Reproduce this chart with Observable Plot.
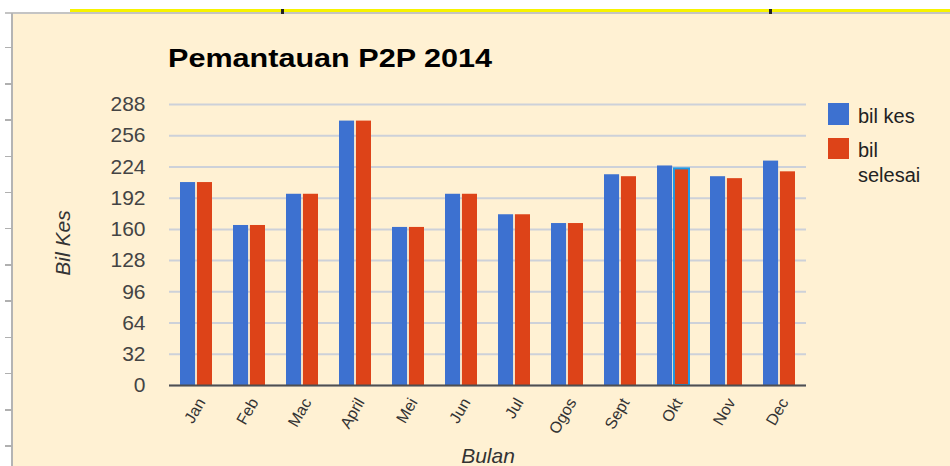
<!DOCTYPE html>
<html>
<head>
<meta charset="utf-8">
<script src="https://cdn.jsdelivr.net/npm/d3@7"></script>
<script src="https://cdn.jsdelivr.net/npm/@observablehq/plot@0.6"></script>
<style>
  html, body { margin: 0; padding: 0; background: #ffffff; }
  #wrap { position: relative; width: 950px; height: 466px; overflow: hidden; background: #ffffff; font-family: "Liberation Sans", Arial, sans-serif; }
  #cream { position: absolute; left: 13px; top: 14px; right: 0; bottom: 0; background: #fff1d3; }
  #vline { position: absolute; left: 11px; top: 13px; width: 2px; bottom: 0; background: #b4b4b4; }
  #hline { position: absolute; left: 5px; top: 12px; right: 0; height: 2px; background: #c4c4c4; }
  #yellow { position: absolute; left: 70px; top: 9px; right: 0; height: 3px; background: #f7f300; }
  .mark { position: absolute; top: 9px; width: 3px; height: 5px; background: #222; }
  #ruler { position: absolute; left: 5px; top: 47px; width: 7px; height: 420px;
    background: repeating-linear-gradient(to bottom, #b0b0b0 0 1.5px, transparent 1.5px 36.2px); }
  #chart { position: absolute; left: 0; top: 0; }
</style>
</head>
<body>
<div id="wrap">
  <div id="cream"></div>
  <div id="hline"></div>
  <div id="yellow"></div>
  <div class="mark" style="left:281px"></div>
  <div class="mark" style="left:769px"></div>
  <div id="vline"></div>
  <div id="ruler"></div>
  <div id="chart"></div>
</div>
<script>
// ---- data ----
const title = "Pemantauan P2P 2014";
const months = ["Jan","Feb","Mac","April","Mei","Jun","Jul","Ogos","Sept","Okt","Nov","Dec"];
const bilKes = [208,164,196,271,162,196,175,166,216,225,214,230];
const bilSelesai = [208,164,196,271,162,196,175,166,214,222,212,219];
const series = ["bil kes", "bil selesai"];
const colors = ["#3d71d0", "#dd4318"];
const yTicks = [0,32,64,96,128,160,192,224,256,288];
const yTitle = "Bil Kes";
const xTitle = "Bulan";

const data = months.flatMap((m, i) => [
  {bulan: m, seri: series[0], nilai: bilKes[i]},
  {bulan: m, seri: series[1], nilai: bilSelesai[i]}
]);

const chart = Plot.plot({
  width: 950,
  height: 466,
  marginLeft: 169,
  marginRight: 144,
  marginTop: 104,
  marginBottom: 81,
  style: {background: "transparent", fontFamily: "'Liberation Sans', Arial, sans-serif", fontSize: "21px", color: "#444"},
  x: {domain: months, paddingInner: 0.4, paddingOuter: 0.2, label: null},
  y: {domain: [0, 288], label: null},
  color: {domain: series, range: colors},
  marks: [
    Plot.gridY(yTicks, {stroke: "#cdd1d9", strokeOpacity: 1, strokeWidth: 2}),
    Plot.barY(data.filter(d => d.seri === series[0]), {x: "bulan", y: "nilai", fill: "seri", insetRight: 16.9}),
    Plot.barY(data.filter(d => d.seri === series[1]), {
      x: "bulan", y: "nilai", fill: "seri", insetLeft: 16.9,
      stroke: d => d.bulan === "Okt" ? "#1d9ae6" : "none", strokeWidth: 2
    }),
    Plot.ruleY([0], {stroke: "#4f4f4f", strokeWidth: 2}),
    Plot.axisX({tickSize: 0, tickPadding: 14, dx: 5, tickRotate: -60, fontSize: 16, fill: "#333", label: null}),
    Plot.axisY(yTicks, {tickSize: 0, tickPadding: 24, fontSize: 21, fill: "#444", label: null})
  ]
});

document.getElementById("chart").appendChild(chart);

const svg = d3.select(chart);
svg.append("text")
  .attr("x", 168).attr("y", 67)
  .attr("text-anchor", "start")
  .attr("font-family", "'Liberation Sans', Arial, sans-serif")
  .attr("font-weight", "bold").attr("font-size", 26)
  .attr("textLength", 324).attr("lengthAdjust", "spacingAndGlyphs")
  .attr("fill", "#000")
  .text(title);

svg.append("text")
  .attr("transform", "translate(70,243) rotate(-90)")
  .attr("text-anchor", "middle")
  .attr("font-style", "italic").attr("font-size", 21)
  .attr("font-family", "'Liberation Sans', Arial, sans-serif")
  .attr("fill", "#333")
  .text(yTitle);

svg.append("text")
  .attr("x", 488).attr("y", 463)
  .attr("text-anchor", "middle")
  .attr("font-style", "italic").attr("font-size", 21)
  .attr("font-family", "'Liberation Sans', Arial, sans-serif")
  .attr("fill", "#333")
  .text(xTitle);

// legend
const leg = svg.append("g").attr("text-anchor", "start").attr("font-family", "'Liberation Sans', Arial, sans-serif").attr("font-size", 20).attr("fill", "#222");
leg.append("rect").attr("x", 828).attr("y", 103).attr("width", 21).attr("height", 22).attr("fill", colors[0]);
leg.append("text").attr("x", 858).attr("y", 123).text(series[0]);
leg.append("rect").attr("x", 828).attr("y", 138).attr("width", 21).attr("height", 21).attr("fill", colors[1]);
const parts = series[1].split(" ");
leg.append("text").attr("x", 858).attr("y", 157).text(parts[0]);
leg.append("text").attr("x", 858).attr("y", 182).text(parts[1]);
</script>
</body>
</html>
